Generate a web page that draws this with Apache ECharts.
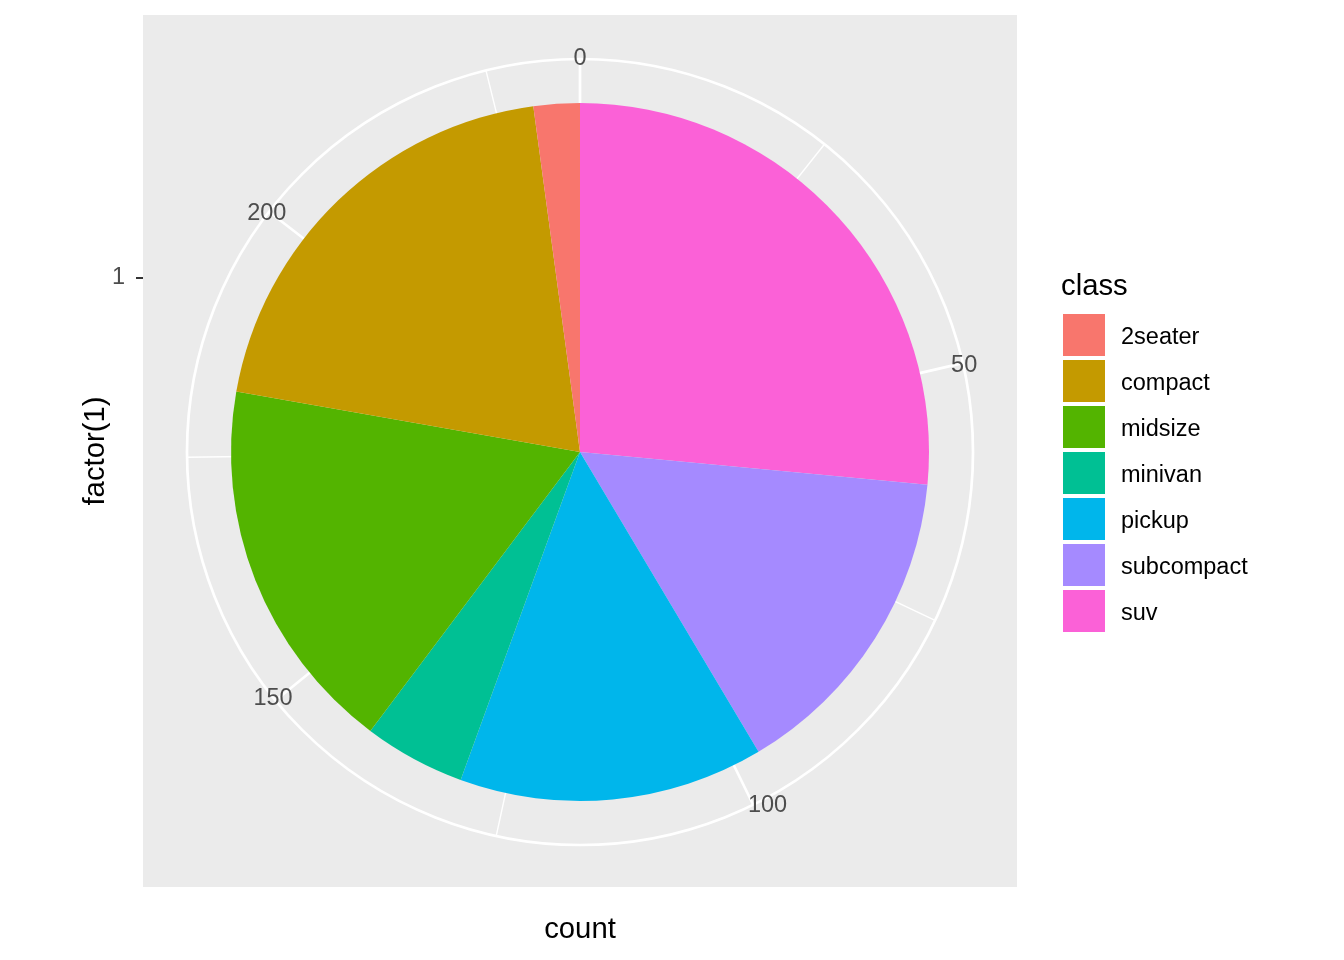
<!DOCTYPE html>
<html>
<head>
<meta charset="utf-8">
<script src="https://cdn.jsdelivr.net/npm/echarts@6/dist/echarts.min.js"></script>
<style>
  html, body { margin: 0; padding: 0; background: #fff; }
</style>
</head>
<body>
<div id="main" style="width: 1344px; height: 960px;"></div>
<script>
// mpg class counts
var classes = ['2seater', 'compact', 'midsize', 'minivan', 'pickup', 'subcompact', 'suv']
var counts = [5, 47, 41, 11, 33, 35, 62]
var colors = ['#F8766D', '#C49A00', '#53B400', '#00C094', '#00B6EB', '#A58AFF', '#FB61D7']
var rCats = ['1']
var total = counts.reduce(function (a, b) { return a + b }, 0)

// ggplot stacks the first level on top, so the pie starts from the last one
var pieData = []
for (var i = classes.length - 1; i >= 0; i--) {
  pieData.push({ name: classes[i], value: counts[i], itemStyle: { color: colors[i] } })
}

var FONT = 'Liberation Sans, Arial, sans-serif'
var cx = 580
var cy = 452
var R = 393

// angle axis in polar i; lines only, or labels only (labels sit on top of the lines)
function angleAx (idx, interval, opts) {
  return Object.assign({
    polarIndex: idx, type: 'value', min: 0, max: total, interval: interval,
    startAngle: 90, clockwise: true, z: 1,
    axisLine: { show: false },
    axisTick: { show: false },
    axisLabel: { show: false },
    splitLine: { show: false }
  }, opts)
}
function labelsFor (list, margin) {
  return {
    color: '#4D4D4D', fontSize: 23.5, margin: margin, fontFamily: FONT,
    formatter: function (v) { return list.indexOf(v) >= 0 ? String(v) : '' }
  }
}

var chart = echarts.init(document.getElementById('main'))
var option = {
  animation: false,
  backgroundColor: '#ffffff',
  textStyle: { fontFamily: FONT },
  title: {
    text: 'class',
    left: 1061,
    top: 272,
    padding: 0,
    textStyle: { fontSize: 29.3, fontWeight: 'normal', color: '#000', lineHeight: 29, fontFamily: FONT }
  },
  legend: {
    orient: 'vertical',
    left: 1063,
    top: 314,
    padding: 0,
    itemWidth: 42,
    itemHeight: 42,
    itemGap: 4,
    icon: 'rect',
    selectedMode: false,
    data: classes,
    formatter: '{t|{name}}',
    textStyle: {
      fontFamily: FONT,
      rich: { t: { fontSize: 23.5, color: '#000', fontFamily: FONT, padding: [6, 0, 0, 11] } }
    }
  },
  grid: [
    { left: 143, top: 15, width: 874, height: 872, show: true, backgroundColor: '#EBEBEB', borderWidth: 0 },
    { left: 143, top: 103, width: 874, height: 349 }
  ],
  xAxis: [
    {
      gridIndex: 0, type: 'value', min: 0, max: 1,
      axisLine: { show: false }, axisTick: { show: false }, axisLabel: { show: false }, splitLine: { show: false },
      name: 'count', nameLocation: 'middle', nameGap: 28,
      nameTextStyle: { fontSize: 29.3, color: '#000', fontFamily: FONT }
    },
    {
      gridIndex: 1, type: 'value', show: false
    }
  ],
  yAxis: [
    {
      gridIndex: 0, type: 'value', min: 0, max: 1,
      axisLine: { show: false }, axisTick: { show: false }, axisLabel: { show: false }, splitLine: { show: false },
      name: 'factor(1)', nameLocation: 'middle', nameGap: 33,
      nameTextStyle: { fontSize: 29.3, color: '#000', fontFamily: FONT }
    },
    {
      gridIndex: 1, type: 'category', data: rCats, boundaryGap: true,
      axisLine: { show: false },
      axisTick: { show: true, alignWithLabel: true, length: 7, lineStyle: { color: '#333333', width: 2 } },
      axisLabel: { color: '#4D4D4D', fontSize: 23.5, margin: 18, fontFamily: FONT },
      splitLine: { show: false }
    }
  ],
  polar: [
    { center: [cx, cy], radius: R },
    { center: [cx, cy], radius: R },
    { center: [cx, cy], radius: R },
    { center: [cx, cy], radius: R }
  ],
  angleAxis: [
    // minor grid (every 25)
    angleAx(0, 25, { z: 0, splitLine: { show: true, lineStyle: { color: '#ffffff', width: 1.4 } } }),
    // major grid (every 50) and outer circle
    angleAx(1, 50, {
      z: 0,
      axisLine: { show: true, lineStyle: { color: '#ffffff', width: 2.7 } },
      splitLine: { show: true, lineStyle: { color: '#ffffff', width: 2.7 } }
    }),
    // tick labels
    angleAx(2, 50, { z: 4, axisLabel: labelsFor([0, 50, 100], -12) }),
    angleAx(3, 50, { z: 4, axisLabel: labelsFor([150, 200], -22) })
  ],
  radiusAxis: [0, 1, 2, 3].map(function (k) {
    return { polarIndex: k, show: false, type: 'value', min: 0, max: 1, splitLine: { show: false } }
  }),
  series: [
    {
      type: 'pie',
      center: [cx, cy],
      radius: [0, 349],
      startAngle: 90,
      clockwise: true,
      z: 3,
      label: { show: false },
      labelLine: { show: false },
      emphasis: { disabled: true },
      itemStyle: { borderWidth: 0 },
      data: pieData
    }
  ]
}
chart.setOption(option)
</script>
</body>
</html>
